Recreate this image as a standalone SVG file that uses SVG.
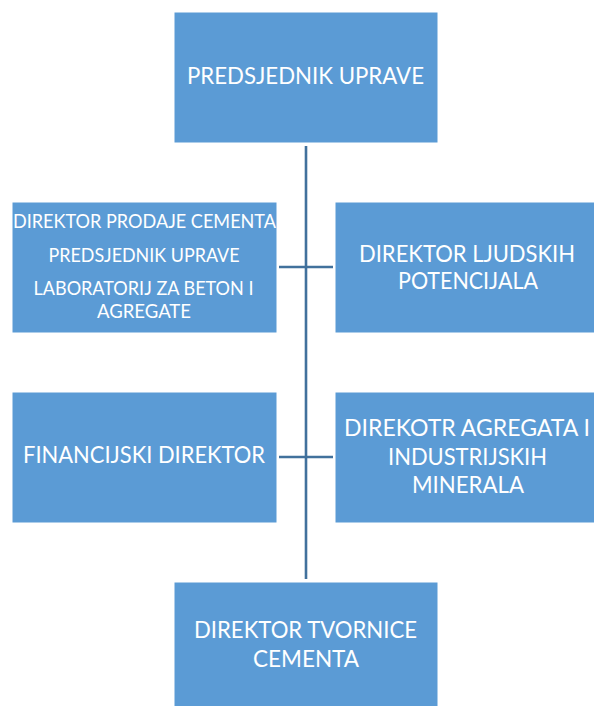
<svg xmlns="http://www.w3.org/2000/svg" width="594" height="706" viewBox="0 0 594 706">
<style>
.box{fill:#5B9BD5;stroke:#FFFFFF;stroke-width:1}
.t{font-family:Lato,"Open Sans","Liberation Sans",sans-serif;font-size:24px;fill:#FFFFFF;text-anchor:middle}
.s{font-size:19px}
.ln{stroke:#41719C;stroke-width:2.6;fill:none}
</style>
<rect width="594" height="706" fill="#FFFFFF"/>
<g id="connectors">
<line class="ln" x1="306" y1="146" x2="306" y2="579"/>
<line class="ln" x1="279" y1="267" x2="333" y2="267"/>
<line class="ln" x1="279" y1="457" x2="333" y2="457"/>
</g>
<g id="predsjednik">
<rect class="box" x="174" y="12" width="264" height="131"/>
<text class="t" x="305.5" y="84" textLength="237" lengthAdjust="spacingAndGlyphs">PREDSJEDNIK UPRAVE</text>
</g>
<g id="prodaja">
<rect class="box" x="12" y="202" width="265" height="131"/>
<text class="t s" x="144.5" y="228" textLength="263" lengthAdjust="spacingAndGlyphs">DIREKTOR PRODAJE CEMENTA</text>
<text class="t s" x="144" y="262" textLength="191" lengthAdjust="spacingAndGlyphs">PREDSJEDNIK UPRAVE</text>
<text class="t s" x="143.5" y="295" textLength="220" lengthAdjust="spacingAndGlyphs">LABORATORIJ ZA BETON I</text>
<text class="t s" x="144" y="318" textLength="94" lengthAdjust="spacingAndGlyphs">AGREGATE</text>
</g>
<g id="ljudski">
<rect class="box" x="335" y="202" width="265" height="131"/>
<text class="t" x="467" y="262" textLength="216" lengthAdjust="spacingAndGlyphs">DIREKTOR LJUDSKIH</text>
<text class="t" x="468" y="288.5" textLength="140" lengthAdjust="spacingAndGlyphs">POTENCIJALA</text>
</g>
<g id="financijski">
<rect class="box" x="12" y="392" width="265" height="131"/>
<text class="t" x="144" y="463" textLength="242" lengthAdjust="spacingAndGlyphs">FINANCIJSKI DIREKTOR</text>
</g>
<g id="agregati">
<rect class="box" x="335" y="392" width="265" height="131"/>
<text class="t" x="467" y="436" textLength="246" lengthAdjust="spacingAndGlyphs">DIREKOTR AGREGATA I</text>
<text class="t" x="467.5" y="465" textLength="159" lengthAdjust="spacingAndGlyphs">INDUSTRIJSKIH</text>
<text class="t" x="468" y="493" textLength="112" lengthAdjust="spacingAndGlyphs">MINERALA</text>
</g>
<g id="tvornica">
<rect class="box" x="174" y="582" width="264" height="131"/>
<text class="t" x="305.5" y="638" textLength="223" lengthAdjust="spacingAndGlyphs">DIREKTOR TVORNICE</text>
<text class="t" x="306" y="667" textLength="106" lengthAdjust="spacingAndGlyphs">CEMENTA</text>
</g>
</svg>
